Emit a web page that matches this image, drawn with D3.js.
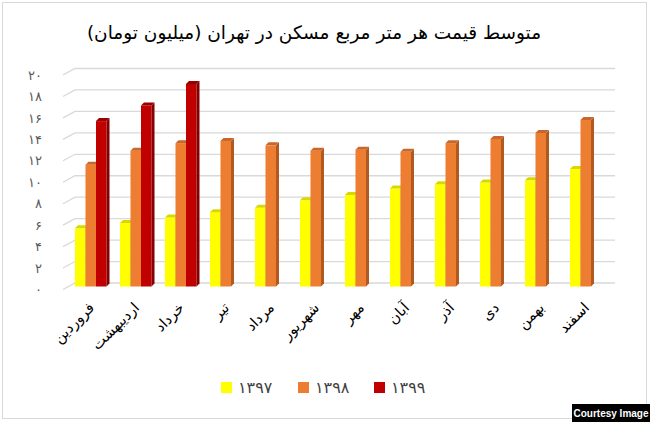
<!DOCTYPE html>
<html>
<head>
<meta charset="utf-8">
<script src="https://cdn.jsdelivr.net/npm/d3@7"></script>
<style>
  body { margin: 0; background: #fff; }
  svg { display: block; }
</style>
</head>
<body>
<svg id="chart" width="650" height="422"></svg>
<script>
// data
var months = ["فروردین", "اردیبهشت", "خرداد", "تیر", "مرداد", "شهریور", "مهر", "آبان", "آذر", "دی", "بهمن", "اسفند"];
var years = ["۱۳۹۷", "۱۳۹۸", "۱۳۹۹"];
var v1397 = [5.4, 5.9, 6.4, 6.9, 7.3, 8.0, 8.5, 9.1, 9.5, 9.65, 9.85, 10.9];
var v1398 = [11.3, 12.6, 13.3, 13.5, 13.1, 12.6, 12.7, 12.5, 13.3, 13.7, 14.25, 15.45];
var v1399 = [15.35, 16.8, 18.8, null, null, null, null, null, null, null, null, null];
var yTicks = [0, 2, 4, 6, 8, 10, 12, 14, 16, 18, 20];
var title = "متوسط قیمت هر متر مربع مسکن در تهران (میلیون تومان)";

var series = [v1397, v1398, v1399];
var colors = [
  {front: "#ffff00", top: "#d8d800", side: "#c9c900"},
  {front: "#ed7d31", top: "#c9662a", side: "#b05a22"},
  {front: "#c00000", top: "#9a0000", side: "#850000"}
];

var fa = function (d) {
  return String(d).replace(/\d/g, function (c) { return "۰۱۲۳۴۵۶۷۸۹"[c]; });
};

var svg = d3.select("#chart");

// frame
svg.append("rect")
  .attr("x", 2.5).attr("y", 2.5)
  .attr("width", 644).attr("height", 416)
  .attr("fill", "none")
  .attr("stroke", "#d9d9d9");

// title
svg.append("text")
  .attr("x", 314).attr("y", 39)
  .attr("text-anchor", "middle")
  .style("font-family", "'DejaVu Sans', sans-serif")
  .style("font-size", "18.5px")
  .style("fill", "#000")
  .text(title);

// scales
var depthX = 12, depthY = -6.5;
var yFront = d3.scaleLinear().domain([0, 20]).range([289.5, 75]);
var yBar = d3.scaleLinear().domain([0, 20]).range([286.5, 71]);
var x0 = d3.scaleBand().domain(months).range([68, 608]).padding(0);
var x1 = d3.scaleBand().domain(d3.range(3)).range([7, 38.5]).padding(0);

// gridlines (side wall + back wall)
var grid = svg.append("g").attr("class", "grid");
grid.selectAll("path")
  .data(yTicks)
  .enter()
  .append("path")
  .attr("d", function (d) {
    var yf = yFront(d);
    return "M63," + yf + "L" + (63 + depthX) + "," + (yf + depthY) + "L615," + (yf + depthY);
  })
  .attr("fill", "none")
  .attr("stroke", "#d9d9d9")
  .attr("stroke-width", 1.3);

// y axis labels
var yAxis = svg.append("g")
  .attr("transform", "translate(42,0)")
  .call(d3.axisLeft(yFront).tickValues(yTicks).tickSize(0).tickFormat(fa));
yAxis.select(".domain").remove();
yAxis.selectAll("text")
  .attr("x", 0)
  .style("font-family", "'DejaVu Sans', sans-serif")
  .style("font-size", "13px")
  .style("fill", "#595959");

// bars (pseudo 3D)
var bw = x1.bandwidth(), bdx = 3, bdy = -3;
var barData = [];
months.forEach(function (m, i) {
  series.forEach(function (s, k) {
    if (s[i] != null) barData.push({month: m, k: k, value: s[i]});
  });
});

var bars = svg.append("g").attr("class", "bars")
  .selectAll("g")
  .data(barData)
  .enter()
  .append("g");

bars.append("rect")
  .attr("x", function (d) { return x0(d.month) + x1(d.k); })
  .attr("y", function (d) { return yBar(d.value); })
  .attr("width", bw)
  .attr("height", function (d) { return yBar(0) - yBar(d.value); })
  .attr("fill", function (d) { return colors[d.k].front; });

bars.append("path")
  .attr("d", function (d) {
    var x = x0(d.month) + x1(d.k) + bw, y = yBar(d.value), y0 = yBar(0);
    return "M" + x + "," + y + "L" + (x + bdx) + "," + (y + bdy) +
      "L" + (x + bdx) + "," + (y0 + bdy) + "L" + x + "," + y0 + "Z";
  })
  .attr("fill", function (d) { return colors[d.k].side; });

bars.append("path")
  .attr("d", function (d) {
    var x = x0(d.month) + x1(d.k), y = yBar(d.value);
    return "M" + x + "," + y + "L" + (x + bw) + "," + y +
      "L" + (x + bw + bdx) + "," + (y + bdy) + "L" + (x + bdx) + "," + (y + bdy) + "Z";
  })
  .attr("fill", function (d) { return colors[d.k].top; });

// category labels
svg.append("g").attr("class", "xlabels")
  .selectAll("text")
  .data(months)
  .enter()
  .append("text")
  .attr("transform", function (d) {
    return "translate(" + (x0(d) + x0.bandwidth() / 2 + 1) + ",305) rotate(-45)";
  })
  .attr("text-anchor", "end")
  .attr("dy", "0.35em")
  .style("font-family", "'DejaVu Sans', sans-serif")
  .style("font-size", "14.5px")
  .style("fill", "#000")
  .text(function (d) { return d; });

// legend
var legendX = [221, 298, 374];
var legend = svg.append("g").attr("class", "legend")
  .selectAll("g")
  .data(years)
  .enter()
  .append("g")
  .attr("transform", function (d, i) { return "translate(" + legendX[i] + ",382)"; });
legend.append("rect")
  .attr("width", 11).attr("height", 11)
  .attr("fill", function (d, i) { return colors[i].front; });
legend.append("text")
  .attr("x", 17).attr("y", 11)
  .style("font-family", "'DejaVu Sans', sans-serif")
  .style("font-size", "16px")
  .style("fill", "#404040")
  .text(function (d) { return d; });

// courtesy tag
svg.append("rect")
  .attr("x", 572).attr("y", 404)
  .attr("width", 78).attr("height", 18)
  .attr("fill", "#000");
svg.append("text")
  .attr("x", 611).attr("y", 417)
  .attr("text-anchor", "middle")
  .style("font-family", "'Liberation Sans', Arial, sans-serif")
  .style("font-weight", "bold")
  .style("font-size", "10px")
  .style("fill", "#fff")
  .text("Courtesy Image");
</script>
</body>
</html>
